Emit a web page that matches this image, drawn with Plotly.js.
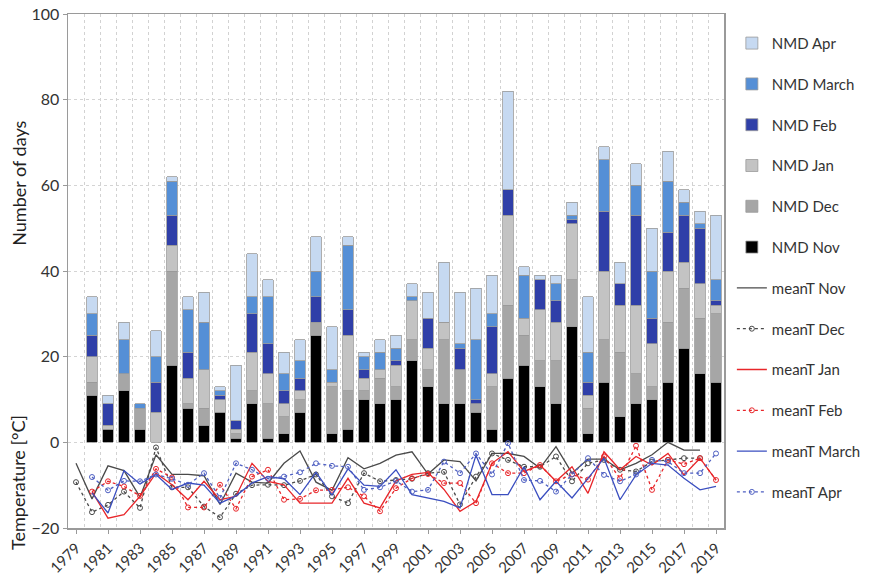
<!DOCTYPE html>
<html><head><meta charset="utf-8">
<script src="https://cdn.plot.ly/plotly-3.0.1.min.js"></script>
<style>html,body{margin:0;padding:0;background:#fff}</style>
</head><body><div id="chart" style="width:878px;height:576px"></div>
<script>
const years = [1979,1980,1981,1982,1983,1984,1985,1986,1987,1988,1989,1990,1991,1992,1993,1994,1995,1996,1997,1998,1999,2000,2001,2002,2003,2004,2005,2006,2007,2008,2009,2010,2011,2012,2013,2014,2015,2016,2017,2018,2019];
const tickYears = [1979,1981,1983,1985,1987,1989,1991,1993,1995,1997,1999,2001,2003,2005,2007,2009,2011,2013,2015,2017,2019];

const nmdNov = [0,11,3,12,3,0,18,8,4,7,1,9,1,2,7,25,2,3,10,9,10,19,13,9,9,7,3,15,18,13,9,27,2,14,6,9,10,14,22,16,14];
const nmdDec = [0,3,0,4,5,0,22,1,4,0,1,3,8,4,3,3,11,9,2,6,3,5,4,15,8,2,10,17,7,6,10,11,6,10,15,7,3,14,14,13,16];
const nmdJan = [0,6,1,0,0,7,6,6,9,3,1,9,7,3,2,0,1,13,3,2,5,9,5,4,0,0,3,21,4,12,9,13,3,16,11,16,10,12,6,8,2];
const nmdFeb = [0,5,5,0,0,7,7,6,0,1,2,9,7,3,3,6,0,6,2,0,1,0,7,0,5,1,11,6,0,7,5,1,3,14,5,21,6,9,11,13,1];
const nmdMar = [0,5,0,8,1,6,8,10,11,1,0,4,11,4,4,6,3,15,3,4,3,1,0,0,1,14,3,0,10,0,4,1,7,12,0,7,11,12,3,1,5];
const nmdApr = [0,4,2,4,0,6,1,3,7,1,13,10,4,5,5,8,10,2,1,3,3,3,6,14,12,12,9,23,2,1,2,3,13,3,5,5,10,7,3,3,15];

const tNov = [-4.9,-13.2,-5.5,-6.6,-12.8,-2.9,-7.5,-7.5,-7.8,-14.5,-7.2,-9.3,-9.5,-4.9,-2.0,-9.3,-11.2,-3.6,-6.2,-4.9,-3.0,-2.2,-7.4,-4.1,-4.5,-9.0,-2.6,-2.6,-3.3,-6.0,-1.0,-7.2,-3.9,-3.9,-6.4,-4.9,-2.9,0.0,-1.8,-1.8,null];
const tDec = [-9.3,-16.3,-14.6,-11.5,-15.3,-1.2,-10.5,-10.5,-15.0,-17.5,-12.0,-10.0,-9.9,-10.0,-9.0,-7.5,-12.6,-14.2,-7.2,-9.1,-8.8,-8.5,-7.2,-6.9,-14.5,-8.0,-2.6,-4.1,-5.7,-5.7,-3.3,-9.1,-4.9,-4.1,-6.4,-6.8,-4.5,-4.1,-3.7,-3.7,null];
const tJan = [null,-11.5,-17.7,-16.9,-12.6,-7.2,-9.9,-13.4,-9.1,-13.4,-12.6,-4.9,-9.1,-9.9,-14.2,-14.2,-14.2,-8.4,-14.2,-15.3,-9.0,-7.5,-7.0,-11.0,-16.1,-13.8,-4.9,-2.2,-6.8,-5.3,-9.1,-5.7,-11.9,-2.2,-6.4,-3.3,-5.3,-2.6,-7.6,-3.7,-8.8];
const tFeb = [null,-11.5,-9.1,-10.3,-12.5,-6.2,-8.2,-15.2,-15.2,-9.9,-15.5,-8.0,-6.4,-13.4,-13.2,-11.2,-11.1,-10.5,-12.6,-16.1,-10.7,-8.4,-7.4,-9.5,-9.5,-14.2,-4.9,-7.2,-7.2,-5.3,-9.1,-7.5,-8.7,-3.3,-8.4,-0.8,-11.1,-4.1,-5.1,-3.7,-8.8];
const tMar = [null,-11.8,-16.5,-6.6,-9.7,-7.5,-11.0,-9.5,-10.0,-14.2,-12.5,-9.5,-8.0,-8.5,-12.2,-7.0,-12.3,-6.2,-10.0,-10.3,-6.4,-12.2,-13.0,-13.8,-15.3,-3.0,-12.2,-12.2,-5.7,-13.4,-9.1,-13.0,-8.4,-3.7,-13.4,-7.6,-4.9,-5.3,-8.4,-11.1,-10.3];
const tApr = [null,-8.1,-11.2,-9.0,-9.1,-7.5,-8.5,-9.9,-7.2,-13.0,-4.9,-6.4,-8.5,-8.0,-7.0,-4.9,-5.5,-5.7,-11.1,-10.5,-9.0,-11.5,-11.1,-4.5,-7.2,-2.6,-7.5,-0.2,-8.8,-9.0,-11.5,-7.5,-3.7,-7.6,-9.1,-7.5,-4.1,-4.5,-7.2,-7.2,-2.6];

const barLine = {color:'#9a9a9a', width:0.8};
function bar(name, vals, color, rank){
  return {type:'bar', name:name, x:years, y:vals.map(v => v===0 ? null : v),
    marker:{color:color, line:barLine}, legendgroup:name, legendrank:rank, hoverinfo:'x+y+name'};
}
function line(name, vals, color, dashed, rank){
  const t = {type:'scatter', name:name, x:years, y:vals, legendgroup:name, legendrank:rank,
    line:{color:color, width:1.3, dash: dashed ? 'dot' : 'solid'}};
  if (dashed){ t.mode='lines+markers'; t.marker={symbol:'circle-open', size:5, color:color, line:{width:1}}; }
  else { t.mode='lines'; }
  return t;
}

const data = [
  bar('NMD Nov', nmdNov, '#000000', 6),
  bar('NMD Dec', nmdDec, '#a6a6a6', 5),
  bar('NMD Jan', nmdJan, '#c3c3c3', 4),
  bar('NMD Feb', nmdFeb, '#2f3fa8', 3),
  bar('NMD March', nmdMar, '#558fd6', 2),
  bar('NMD Apr', nmdApr, '#c6d9f1', 1),
  line('meanT Nov', tNov, '#4a4a4a', false, 7),
  line('meanT Dec', tDec, '#4a4a4a', true, 8),
  line('meanT Jan', tJan, '#e8262a', false, 9),
  line('meanT Feb', tFeb, '#e8262a', true, 10),
  line('meanT March', tMar, '#3a4ec0', false, 11),
  line('meanT Apr', tApr, '#4e5fc2', true, 12)
];

const font = 'Lato, "Open Sans", sans-serif';
const layout = {
  width:878, height:576,
  margin:{l:68, r:154, t:14, b:48},
  paper_bgcolor:'#ffffff', plot_bgcolor:'#ffffff',
  barmode:'stack', bargap:0.36,
  font:{family:font, color:'#333333'},
  showlegend:true,
  legend:{x:1.012, xanchor:'left', y:0.975, yanchor:'top', traceorder:'grouped',
    tracegroupgap:18.3, font:{size:15, family:font, color:'#333'}, bgcolor:'rgba(0,0,0,0)'},
  xaxis:{type:'linear', range:[1978.5, 2019.5], tickmode:'array', tickvals:tickYears,
    ticktext:tickYears.map(String), tickangle:-45, tickfont:{size:15, family:font, color:'#333'},
    showgrid:false, zeroline:false, showline:true, mirror:true, linecolor:'#9a9a9a', linewidth:1.5,
    ticks:'outside', ticklen:4, tickcolor:'#9a9a9a',
    minor:{tick0:1978.5, dtick:1, showgrid:true, gridcolor:'#d2d2d2', griddash:'dot', gridwidth:1, ticks:''}},
  yaxis:{range:[-20,100], tickmode:'array', tickvals:[-20,0,20,40,60,80,100],
    tickfont:{size:16, family:font, color:'#333'}, showgrid:true, gridcolor:'#d4d4d4', griddash:'dot',
    zeroline:false, showline:true, mirror:true, linecolor:'#9a9a9a', linewidth:1.5,
    ticks:'outside', ticklen:4, tickcolor:'#9a9a9a'},
  annotations:[
    {text:'Number of days', xref:'paper', yref:'paper', x:-0.076, y:0.67, textangle:-90,
     showarrow:false, xanchor:'center', yanchor:'middle', font:{size:18, family:font, color:'#222'}},
    {text:'Temperature [\u00b0C]', xref:'paper', yref:'paper', x:-0.076, y:0.088, textangle:-90,
     showarrow:false, xanchor:'center', yanchor:'middle', font:{size:18, family:font, color:'#222'}}
  ]
};

Plotly.newPlot('chart', data, layout, {displayModeBar:false, staticPlot:true});
</script>
</body></html>
